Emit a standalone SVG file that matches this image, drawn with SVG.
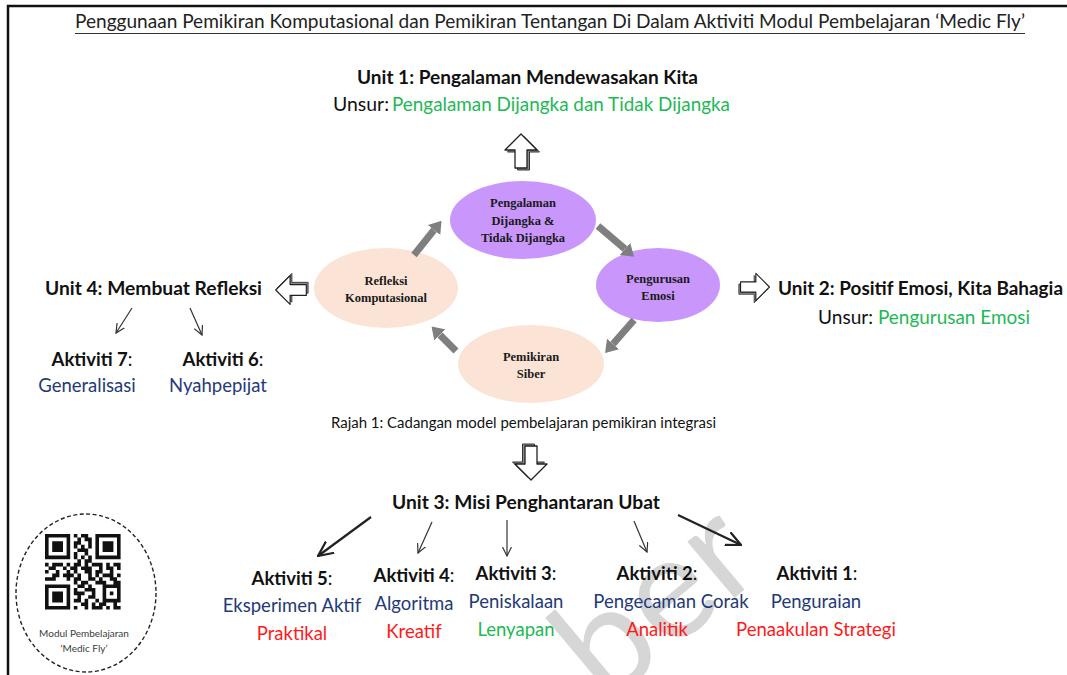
<svg xmlns="http://www.w3.org/2000/svg" xmlns:xlink="http://www.w3.org/1999/xlink" width="1067" height="675" viewBox="0 0 1067 675">
  <style>
    .sans { font-family: Lato, "Open Sans", "Liberation Sans", sans-serif; }
    .head { font-family: Lato, "Open Sans", "Liberation Sans", sans-serif; font-weight: bold; font-size: 19px; fill: #111; }
    .plain { font-family: Lato, "Open Sans", "Liberation Sans", sans-serif; font-size: 19px; fill: #111; }
    .act { font-family: Lato, "Open Sans", "Liberation Sans", sans-serif; font-size: 18.5px; fill: #111; text-anchor: middle; }
    .act .b { font-weight: bold; }
    .blue { font-family: Lato, "Open Sans", "Liberation Sans", sans-serif; font-size: 18.5px; fill: #1f3a78; text-anchor: middle; }
    .red { font-family: Lato, "Open Sans", "Liberation Sans", sans-serif; font-size: 18.5px; fill: #ff1a1a; text-anchor: middle; }
    .green { fill: #1db954; }
    .node-label { font-family: "Liberation Serif", "Times New Roman", serif; font-weight: bold; font-size: 12.5px; fill: #1a1a1a; text-anchor: middle; }
    .purple { fill: #c997fb; }
    .peach { fill: #fbe4d5; }
    .cycle { stroke: #7f7f7f; stroke-width: 7; fill: none; marker-end: url(#grayHead); }
    .thin { stroke: #333; stroke-width: 1.2; fill: none; marker-end: url(#vHead); }
    .bold-link { stroke: #222; stroke-width: 2.2; fill: none; marker-end: url(#vHeadBig); }
  </style>
  <defs>
    <marker id="grayHead" viewBox="0 0 12 16" refX="0" refY="8" markerWidth="12" markerHeight="16" markerUnits="userSpaceOnUse" orient="auto">
      <path d="M0,0 L12,8 L0,16 Z" fill="#7f7f7f"/>
    </marker>
    <marker id="vHead" viewBox="0 0 10 10" refX="9" refY="5" markerWidth="10" markerHeight="10" markerUnits="userSpaceOnUse" orient="auto">
      <path d="M0,0.5 L9,5 L0,9.5" fill="none" stroke="#333" stroke-width="1.2"/>
    </marker>
    <marker id="vHeadBig" viewBox="0 0 16 16" refX="15" refY="8" markerWidth="16" markerHeight="16" markerUnits="userSpaceOnUse" orient="auto">
      <path d="M0,1 L15,8 L0,15" fill="none" stroke="#222" stroke-width="2.2"/>
    </marker>
    <!-- hollow block arrow pointing up, centred on the origin -->
    <g id="blockArrow">
      <path d="M0,-17 L16,-1 L6,-1 L6,17 L-6,17 L-6,-1 L-16,-1 Z" transform="translate(2.5,2)" fill="#8c8c8c" stroke="#333" stroke-width="1"/>
      <path d="M0,-17 L16,-1 L6,-1 L6,17 L-6,17 L-6,-1 L-16,-1 Z" fill="#fff" stroke="#222" stroke-width="1.3" stroke-linejoin="round"/>
    </g>
    <path id="finder" d="M0 0h7v7h-7z M1 1v5h5v-5z M2 2h3v3h-3z" fill-rule="evenodd"/>
  </defs>

  <rect width="1067" height="675" fill="#fff"/>

  <!-- watermark -->
  <text class="sans" x="0" y="0" font-size="145" fill="#d6d6d6" transform="translate(606,706) rotate(-40)">ber</text>

  <!-- page frame -->
  <path d="M8,676 V6 H1067" fill="none" stroke="#111" stroke-width="2.5"/>

  <!-- title -->
  <g id="title">
    <text class="sans" x="75" y="28" font-size="19" fill="#222" textLength="950" lengthAdjust="spacingAndGlyphs">Penggunaan Pemikiran Komputasional dan Pemikiran Tentangan Di Dalam Aktiviti Modul Pembelajaran ‘Medic Fly’</text>
    <line x1="75" y1="33.5" x2="1025" y2="33.5" stroke="#333" stroke-width="1"/>
  </g>

  <!-- cycle nodes -->
  <g id="node-pengalaman">
    <ellipse class="purple" cx="523" cy="220" rx="73" ry="39"/>
    <text class="node-label" x="523" y="207">Pengalaman</text>
    <text class="node-label" x="523" y="225">Dijangka &amp;</text>
    <text class="node-label" x="523" y="242">Tidak Dijangka</text>
  </g>
  <g id="node-pengurusan">
    <ellipse class="purple" cx="658" cy="285" rx="62" ry="37"/>
    <text class="node-label" x="658" y="283">Pengurusan</text>
    <text class="node-label" x="658" y="300">Emosi</text>
  </g>
  <g id="node-siber">
    <ellipse class="peach" cx="531" cy="364" rx="73" ry="39"/>
    <text class="node-label" x="531" y="361">Pemikiran</text>
    <text class="node-label" x="531" y="378">Siber</text>
  </g>
  <g id="node-refleksi">
    <ellipse class="peach" cx="386" cy="288" rx="72" ry="40"/>
    <text class="node-label" x="386" y="285">Refleksi</text>
    <text class="node-label" x="386" y="302">Komputasional</text>
  </g>

  <!-- caption -->
  <text class="sans" x="331" y="428" font-size="14.5" fill="#111" textLength="385" lengthAdjust="spacingAndGlyphs">Rajah 1: Cadangan model pembelajaran pemikiran integrasi</text>

  <!-- units -->
  <g id="unit1">
    <text class="head" x="357" y="84" textLength="341" lengthAdjust="spacingAndGlyphs">Unit 1: Pengalaman Mendewasakan Kita</text>
    <text class="plain" x="333" y="111" textLength="56" lengthAdjust="spacingAndGlyphs">Unsur:</text>
    <text class="plain green" x="392" y="111" textLength="338" lengthAdjust="spacingAndGlyphs">Pengalaman Dijangka dan Tidak Dijangka</text>
  </g>
  <g id="unit2">
    <text class="head" x="778" y="295" textLength="285" lengthAdjust="spacingAndGlyphs">Unit 2: Positif Emosi, Kita Bahagia</text>
    <text class="plain" x="818" y="324" textLength="55" lengthAdjust="spacingAndGlyphs">Unsur:</text>
    <text class="plain green" x="878" y="324" textLength="152" lengthAdjust="spacingAndGlyphs">Pengurusan Emosi</text>
  </g>
  <g id="unit4">
    <text class="head" x="45" y="295" textLength="217" lengthAdjust="spacingAndGlyphs">Unit 4: Membuat Refleksi</text>
  </g>
  <g id="unit3">
    <text class="head" x="392" y="509" textLength="268" lengthAdjust="spacingAndGlyphs">Unit 3: Misi Penghantaran Ubat</text>
  </g>

  <!-- activities -->
  <g id="aktiviti7">
    <text class="act" x="92" y="366"><tspan class="b">Aktiviti 7</tspan>:</text>
    <text class="blue" x="87" y="392">Generalisasi</text>
  </g>
  <g id="aktiviti6">
    <text class="act" x="223" y="366"><tspan class="b">Aktiviti 6</tspan>:</text>
    <text class="blue" x="218" y="392">Nyahpepijat</text>
  </g>
  <g id="aktiviti5">
    <text class="act" x="292" y="585"><tspan class="b">Aktiviti 5</tspan>:</text>
    <text class="blue" x="292" y="612">Eksperimen Aktif</text>
    <text class="red" x="292" y="640">Praktikal</text>
  </g>
  <g id="aktiviti4">
    <text class="act" x="414" y="582"><tspan class="b">Aktiviti 4</tspan>:</text>
    <text class="blue" x="414" y="610">Algoritma</text>
    <text class="red" x="414" y="638">Kreatif</text>
  </g>
  <g id="aktiviti3">
    <text class="act" x="516" y="580"><tspan class="b">Aktiviti 3</tspan>:</text>
    <text class="blue" x="516" y="608">Peniskalaan</text>
    <text class="red green" x="516" y="636">Lenyapan</text>
  </g>
  <g id="aktiviti2">
    <text class="act" x="657" y="580"><tspan class="b">Aktiviti 2</tspan>:</text>
    <text class="blue" x="671" y="608">Pengecaman Corak</text>
    <text class="red" x="657" y="636">Analitik</text>
  </g>
  <g id="aktiviti1">
    <text class="act" x="817" y="580"><tspan class="b">Aktiviti 1</tspan>:</text>
    <text class="blue" x="816" y="608">Penguraian</text>
    <text class="red" x="816" y="636">Penaakulan Strategi</text>
  </g>

  <!-- QR badge -->
  <g id="qr-badge">
    <ellipse cx="86" cy="593" rx="70" ry="79" fill="none" stroke="#222" stroke-width="1.4" stroke-dasharray="4 2.5"/>
    <g transform="translate(45,534) scale(3.6)" fill="#111">
      <use xlink:href="#finder"/>
      <use xlink:href="#finder" x="14"/>
      <use xlink:href="#finder" y="14"/>
      <path d="M8 0h1v1h-1z M10 0h2v1h-2z
               M9 1h1v1h-1z M11 1h2v1h-2z
               M8 2h2v1h-2z M12 2h1v1h-1z
               M8 3h1v1h-1z M10 3h1v1h-1z M12 3h1v1h-1z
               M9 4h3v1h-3z
               M8 5h1v1h-1z M11 5h1v1h-1z
               M8 6h1v1h-1z M10 6h1v1h-1z M12 6h1v1h-1z
               M9 7h1v1h-1z M11 7h2v1h-2z
               M0 8h1v1h-1z M2 8h3v1h-3z M6 8h1v1h-1z M8 8h2v1h-2z M11 8h1v1h-1z M13 8h3v1h-3z M17 8h1v1h-1z M19 8h2v1h-2z
               M1 9h2v1h-2z M5 9h1v1h-1z M7 9h2v1h-2z M10 9h3v1h-3z M15 9h1v1h-1z M17 9h2v1h-2z M20 9h1v1h-1z
               M0 10h1v1h-1z M3 10h1v1h-1z M6 10h1v1h-1z M8 10h1v1h-1z M11 10h2v1h-2z M14 10h2v1h-2z M18 10h1v1h-1z
               M2 11h2v1h-2z M5 11h3v1h-3z M9 11h1v1h-1z M12 11h1v1h-1z M14 11h1v1h-1z M16 11h3v1h-3z M20 11h1v1h-1z
               M0 12h3v1h-3z M6 12h1v1h-1z M8 12h2v1h-2z M12 12h2v1h-2z M15 12h1v1h-1z M18 12h2v1h-2z
               M8 13h1v1h-1z M10 13h2v1h-2z M14 13h3v1h-3z M19 13h2v1h-2z
               M9 14h2v1h-2z M12 14h1v1h-1z M16 14h5v1h-5z
               M8 15h1v1h-1z M11 15h3v1h-3z M16 15h1v1h-1z M20 15h1v1h-1z
               M8 16h3v1h-3z M13 16h1v1h-1z M16 16h1v1h-1z M18 16h1v1h-1z M20 16h1v1h-1z
               M9 17h1v1h-1z M12 17h2v1h-2z M16 17h1v1h-1z M20 17h1v1h-1z
               M8 18h2v1h-2z M11 18h1v1h-1z M14 18h1v1h-1z M16 18h5v1h-5z
               M10 19h2v1h-2z M13 19h1v1h-1z M15 19h2v1h-2z M19 19h1v1h-1z
               M8 20h1v1h-1z M11 20h1v1h-1z M13 20h3v1h-3z M17 20h1v1h-1z M19 20h2v1h-2z"/>
    </g>
    <text class="sans" x="84" y="637" font-size="10" fill="#3a3a3a" text-anchor="middle">Modul Pembelajaran</text>
    <text class="sans" x="84" y="652" font-size="10" fill="#3a3a3a" text-anchor="middle">‘Medic Fly’</text>
  </g>

  <!-- connectors -->
  <g id="connectors">
    <!-- cycle arrows -->
    <line class="cycle" x1="414" y1="255" x2="434" y2="230"/>
    <line class="cycle" x1="598" y1="226" x2="625" y2="249"/>
    <line class="cycle" x1="634" y1="320" x2="613" y2="344"/>
    <line class="cycle" x1="456" y1="351" x2="440" y2="335"/>
    <!-- block arrows out of the cycle -->
    <use xlink:href="#blockArrow" transform="translate(521,151)"/>
    <use xlink:href="#blockArrow" transform="translate(755,287) rotate(90) scale(0.85)"/>
    <use xlink:href="#blockArrow" transform="translate(291,290) rotate(-90) scale(0.9)"/>
    <use xlink:href="#blockArrow" transform="translate(531,463) rotate(180)"/>
    <!-- unit 4 to activities -->
    <line class="thin" x1="132" y1="308" x2="116" y2="333"/>
    <line class="thin" x1="190" y1="308" x2="202" y2="335"/>
    <!-- unit 3 to activities -->
    <line class="bold-link" x1="371" y1="517" x2="318" y2="556"/>
    <line class="thin" x1="432" y1="522" x2="418" y2="553"/>
    <line class="thin" x1="507" y1="520" x2="507" y2="556"/>
    <line class="thin" x1="634" y1="521" x2="647" y2="552"/>
    <line class="bold-link" x1="678" y1="515" x2="741" y2="545"/>
  </g>
</svg>
